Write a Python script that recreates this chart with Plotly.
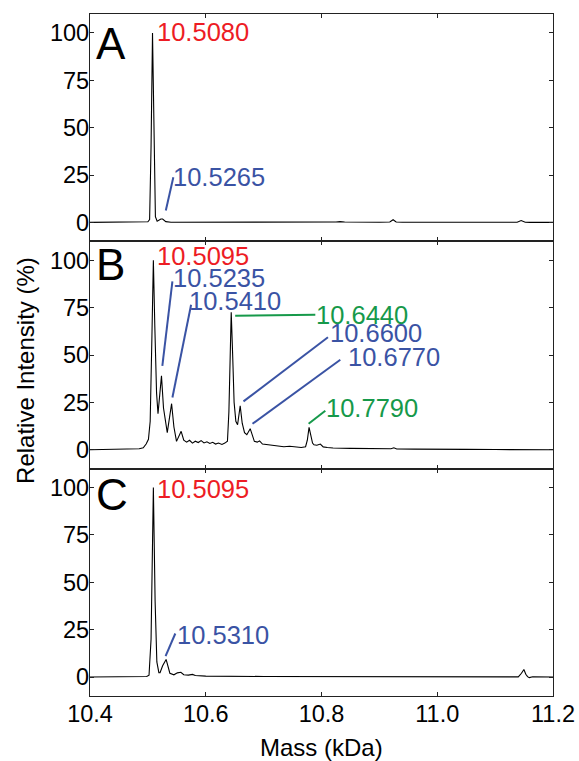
import plotly.graph_objects as go
from plotly.subplots import make_subplots

# ---------------- data ----------------
mass_A = [10.40, 10.45, 10.49, 10.500, 10.503, 10.5055, 10.508, 10.5105, 10.513, 10.516,
          10.519, 10.5225, 10.5255, 10.528, 10.531, 10.54, 10.60, 10.70, 10.80, 10.825,
          10.832, 10.84, 10.90, 10.918, 10.9237, 10.929, 10.94, 11.00, 11.10, 11.138,
          11.145, 11.152, 11.16, 11.20]
int_A = [0.0, 0.0, 0.1, 0.3, 1.5, 40.0, 100.0, 40.0, 3.0, 0.6,
         1.2, 1.8, 1.8, 1.2, 0.4, 0.1, 0.1, 0.0, 0.1, 0.2,
         0.4, 0.2, 0.1, 0.2, 1.4, 0.2, 0.1, 0.1, 0.1, 0.1,
         1.0, 0.1, 0.0, 0.0]

mass_B = [10.40, 10.47, 10.485, 10.492, 10.497, 10.501, 10.504, 10.507, 10.5095, 10.512,
          10.515, 10.5175, 10.5235, 10.527, 10.5305, 10.5335, 10.541, 10.545, 10.5495, 10.5575,
          10.562, 10.567, 10.572, 10.577, 10.582, 10.587, 10.592, 10.597, 10.602, 10.607,
          10.612, 10.617, 10.622, 10.628, 10.633, 10.6375, 10.640, 10.6425, 10.644, 10.6465,
          10.649, 10.652, 10.655, 10.6595, 10.663, 10.667, 10.671, 10.6768, 10.681, 10.684,
          10.689, 10.693, 10.698, 10.705, 10.715, 10.725, 10.735, 10.745, 10.755, 10.765,
          10.7725, 10.7755, 10.7785, 10.7815, 10.7845, 10.787, 10.792, 10.798, 10.803, 10.81,
          10.82, 10.85, 10.90, 10.92, 10.925, 10.93, 10.96, 11.00, 11.05, 11.10,
          11.15, 11.20]
int_B = [0.0, 0.2, 0.5, 1.0, 3.0, 5.5, 15.0, 60.0, 100.0, 65.0,
         30.0, 19.0, 39.0, 22.0, 14.0, 9.0, 24.3, 12.0, 4.4, 9.7,
         5.0, 4.0, 5.0, 3.5, 4.5, 3.8, 4.8, 3.6, 4.2, 3.3,
         3.9, 3.0, 3.5, 2.8, 3.5, 4.5, 20.0, 60.0, 72.5, 50.0,
         25.0, 15.0, 13.2, 23.2, 14.0, 9.0, 7.9, 11.1, 7.0, 4.4,
         4.0, 4.7, 3.0, 2.8, 2.3, 2.0, 1.6, 1.8, 1.3, 1.2,
         1.6, 5.0, 11.8, 8.0, 3.5, 2.6, 2.4, 3.0, 1.5, 1.2,
         0.9, 0.7, 0.5, 0.5, 1.0, 0.4, 0.3, 0.1, 0.2, 0.1,
         0.1, 0.0]

mass_C = [10.40, 10.49, 10.498, 10.502, 10.5055, 10.5095, 10.5125, 10.5155, 10.519, 10.521,
          10.5255, 10.5315, 10.535, 10.538, 10.545, 10.551, 10.557, 10.562, 10.570, 10.577,
          10.582, 10.60, 10.70, 10.80, 10.90, 11.00, 11.14, 11.1455, 11.1497, 11.153,
          11.156, 11.159, 11.165, 11.20]
int_C = [0.0, 0.0, 0.3, 1.0, 20.0, 100.0, 40.0, 8.0, 2.3, 2.3,
         6.0, 9.3, 5.0, 2.0, 1.2, 2.2, 2.5, 1.2, 1.0, 1.4,
         0.8, 0.5, 0.3, 0.2, 0.2, 0.1, 0.1, 2.0, 4.0, 1.5,
         0.2, -0.3, 0.2, 0.0]

# peak labels
labels_text = ["10.5080", "10.5265",
               "10.5095", "10.5235", "10.5410", "10.6440", "10.6600", "10.6770", "10.7790",
               "10.5095", "10.5310"]
labels_row = [1, 1, 2, 2, 2, 2, 2, 2, 2, 3, 3]
labels_col = ["red", "blue", "red", "blue", "blue", "green", "blue", "blue", "green", "red", "blue"]
labels_x = [10.5125, 10.5405, 10.5125, 10.5400, 10.5673, 10.7870, 10.8110, 10.8418, 10.8043, 10.5126, 10.5465]
labels_y = [100.4, 23.8, 102.0, 90.6, 78.3, 71.2, 61.6, 49.2, 22.0, 99.5, 22.4]
lead_x0 = [None, 10.531, None, 10.525, 10.5424, 10.6509, 10.6652, 10.6808, 10.7777, None, 10.5306]
lead_y0 = [None, 6.3, None, 44.3, 27.6, 70.7, 25.5, 13.7, 13.7, None, 11.0]
lead_x1 = [None, 10.544, None, 10.5424, 10.5747, 10.7893, 10.8112, 10.8325, 10.8066, None, 10.5474]
lead_y1 = [None, 23.8, None, 88.8, 76.5, 71.2, 59.4, 47.5, 20.6, None, 23.0]

panel_letters = ["A", "B", "C"]
letter_y = [94.3, 97.6, 96.4]

x_ticks = [10.4, 10.6, 10.8, 11.0, 11.2]
x_ticktext = ["10.4", "10.6", "10.8", "11.0", "11.2"]
y_ticks = [0, 25, 50, 75, 100]

# ---------------- figure ----------------
COLORS = {"red": "#ED1C24", "blue": "#3A53A4", "green": "#16994A"}
FONT = "Arial, Liberation Sans, Helvetica, sans-serif"

fig = make_subplots(rows=3, cols=1, shared_xaxes=True, vertical_spacing=0)

for r, (mx, iy) in enumerate([(mass_A, int_A), (mass_B, int_B), (mass_C, int_C)], start=1):
    fig.add_trace(go.Scatter(x=mx, y=iy, mode="lines",
                             line=dict(color="black", width=1.1),
                             showlegend=False, hoverinfo="skip"), row=r, col=1)

for r in (1, 2, 3):
    fig.update_yaxes(range=[-10, 110], tickvals=y_ticks, ticks="inside", ticklen=4,
                     tickwidth=1, tickcolor="#222", showline=True, linecolor="#222",
                     linewidth=1.3, mirror="ticks", showgrid=False, zeroline=False,
                     automargin=False, ticklabelstandoff=-5,
                     tickfont=dict(family=FONT, size=23.5, color="black"), row=r, col=1)
    fig.update_xaxes(range=[10.4, 11.2], tickvals=x_ticks, ticktext=x_ticktext,
                     ticks="inside", ticklen=4, tickwidth=1, tickcolor="#222",
                     showline=True, linecolor="#222", linewidth=1.3, mirror="ticks",
                     showgrid=False, zeroline=False, automargin=False,
                     ticklabelstandoff=-3,
                     showticklabels=(r == 3),
                     tickfont=dict(family=FONT, size=23.5, color="black"), row=r, col=1)

annotations = []
shapes = []
for i, txt in enumerate(labels_text):
    r = labels_row[i]
    xr = "x" if r == 1 else f"x{r}"
    yr = "y" if r == 1 else f"y{r}"
    col = COLORS[labels_col[i]]
    annotations.append(dict(x=labels_x[i], y=labels_y[i], xref=xr, yref=yr, text=txt,
                            showarrow=False, xanchor="left", yanchor="middle",
                            font=dict(family=FONT, size=25.5, color=col)))
    if lead_x0[i] is not None:
        shapes.append(dict(type="line", xref=xr, yref=yr, x0=lead_x0[i], y0=lead_y0[i],
                           x1=lead_x1[i], y1=lead_y1[i], line=dict(color=col, width=2)))

for k, letter in enumerate(panel_letters):
    r = k + 1
    xr = "x" if r == 1 else f"x{r}"
    yr = "y" if r == 1 else f"y{r}"
    annotations.append(dict(x=10.4065, y=letter_y[k], xref=xr, yref=yr, text=letter,
                            showarrow=False, xanchor="left", yanchor="middle",
                            font=dict(family=FONT, size=44, color="black")))

annotations.append(dict(x=0.5, y=-0.0762, xref="paper", yref="paper", text="Mass (kDa)",
                        showarrow=False, xanchor="center", yanchor="middle",
                        font=dict(family=FONT, size=24, color="black")))
annotations.append(dict(x=-0.1405, y=0.478, xref="paper", yref="paper",
                        text="Relative Intensity (%)", textangle=-90,
                        showarrow=False, xanchor="center", yanchor="middle",
                        font=dict(family=FONT, size=24, color="black")))

fig.update_layout(width=579, height=761, autosize=False,
                  margin=dict(l=90, r=26, t=14, b=65, pad=0),
                  paper_bgcolor="white", plot_bgcolor="white",
                  annotations=annotations, shapes=shapes)

fig.write_html("out.html",
               config={"displayModeBar": False, "responsive": False},
               post_script="document.body.style.margin='0';document.body.style.overflow='hidden';")
